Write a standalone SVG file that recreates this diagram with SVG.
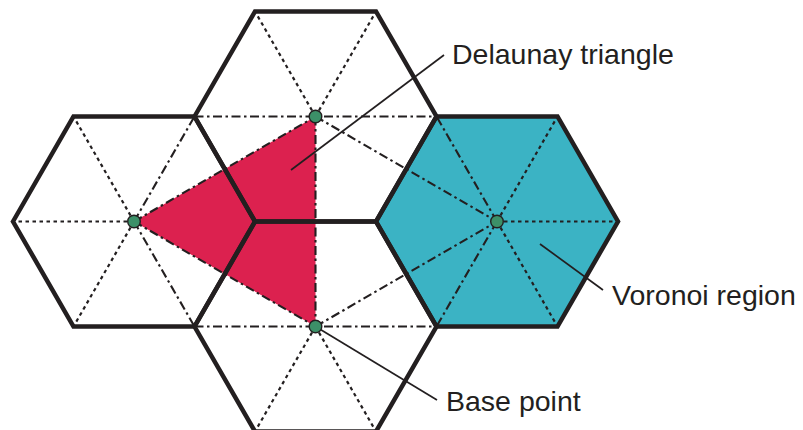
<svg xmlns="http://www.w3.org/2000/svg" width="803" height="430" viewBox="0 0 803 430">
<defs>
<style>
.hex{fill:none;stroke:#231f20;stroke-width:4.5;stroke-linejoin:miter}
.dot{fill:none;stroke:#231f20;stroke-width:2.2;stroke-dasharray:3.5 3.5}
.dd{fill:none;stroke:#231f20;stroke-width:2.1;stroke-dasharray:9 3.5 2.5 3.5}
.lead{fill:none;stroke:#231f20;stroke-width:1.7}
.pt{fill:#3c9068;stroke:#231f20;stroke-width:1.4}
.lbl{font-family:"Liberation Sans",Arial,sans-serif;font-size:28.5px;fill:#231f20}
</style>
</defs>
<rect width="803" height="430" fill="#ffffff"/>
<g id="voronoi-fill">
<polygon points="376,221.5 436.5,116.5 557.5,116.5 618,221.5 557.5,326.5 436.5,326.5" fill="#3bb3c4"/>
</g>
<g id="delaunay-triangle">
<polygon points="134,221.5 315.5,116.5 315.5,326.5" fill="#dc214f"/>
</g>
<g id="connectors">
<g id="dotted-spokes">
<line class="dot" x1="134" y1="221.5" x2="13" y2="221.5"/>
<line class="dot" x1="134" y1="221.5" x2="73.5" y2="116.5"/>
<line class="dot" x1="134" y1="221.5" x2="73.5" y2="326.5"/>
<line class="dot" x1="315.5" y1="116.5" x2="255" y2="11.5"/>
<line class="dot" x1="315.5" y1="116.5" x2="376" y2="11.5"/>
<line class="dot" x1="315.5" y1="326.5" x2="255" y2="431.5"/>
<line class="dot" x1="315.5" y1="326.5" x2="376" y2="431.5"/>
<line class="dot" x1="497" y1="221.5" x2="557.5" y2="116.5"/>
<line class="dot" x1="497" y1="221.5" x2="618" y2="221.5"/>
<line class="dot" x1="497" y1="221.5" x2="557.5" y2="326.5"/>
</g>
<g id="dashdot-edges">
<line class="dd" x1="134" y1="221.5" x2="194.5" y2="116.5"/>
<line class="dd" x1="134" y1="221.5" x2="194.5" y2="326.5"/>
<line class="dd" x1="194.5" y1="116.5" x2="436.5" y2="116.5"/>
<line class="dd" x1="194.5" y1="326.5" x2="436.5" y2="326.5"/>
<line class="dd" x1="315.5" y1="116.5" x2="497" y2="221.5"/>
<line class="dd" x1="315.5" y1="326.5" x2="497" y2="221.5"/>
<line class="dd" x1="497" y1="221.5" x2="436.5" y2="116.5"/>
<line class="dd" x1="497" y1="221.5" x2="436.5" y2="326.5"/>
<line class="dd" x1="134" y1="221.5" x2="315.5" y2="116.5"/>
<line class="dd" x1="134" y1="221.5" x2="315.5" y2="326.5"/>
<line class="dd" x1="315.5" y1="116.5" x2="315.5" y2="326.5"/>
</g>
</g>
<g id="hex-left"><polygon class="hex" points="13,221.5 73.5,116.5 194.5,116.5 255,221.5 194.5,326.5 73.5,326.5"/></g>
<g id="hex-top"><polygon class="hex" points="194.5,116.5 255,11.5 376,11.5 436.5,116.5 376,221.5 255,221.5"/></g>
<g id="hex-bottom"><polygon class="hex" points="194.5,326.5 255,221.5 376,221.5 436.5,326.5 376,431.5 255,431.5"/></g>
<g id="hex-right"><polygon class="hex" points="376,221.5 436.5,116.5 557.5,116.5 618,221.5 557.5,326.5 436.5,326.5"/></g>
<g id="leaders">
<line class="lead" x1="291" y1="170" x2="444" y2="55"/>
<line class="lead" x1="540" y1="244" x2="603" y2="290"/>
<line class="lead" x1="315.5" y1="326.5" x2="437" y2="400"/>
</g>
<g id="point-left"><circle class="pt" cx="134" cy="221.5" r="6.3"/></g>
<g id="point-top"><circle class="pt" cx="315.5" cy="116.5" r="6.3"/></g>
<g id="point-bottom"><circle class="pt" cx="315.5" cy="326.5" r="6.3"/></g>
<g id="point-right"><circle class="pt" cx="497" cy="221.5" r="6.3"/></g>
<g id="label-delaunay"><text class="lbl" x="452" y="64">Delaunay triangle</text></g>
<g id="label-voronoi"><text class="lbl" x="612" y="305">Voronoi region</text></g>
<g id="label-base"><text class="lbl" x="446" y="411">Base point</text></g>
</svg>
